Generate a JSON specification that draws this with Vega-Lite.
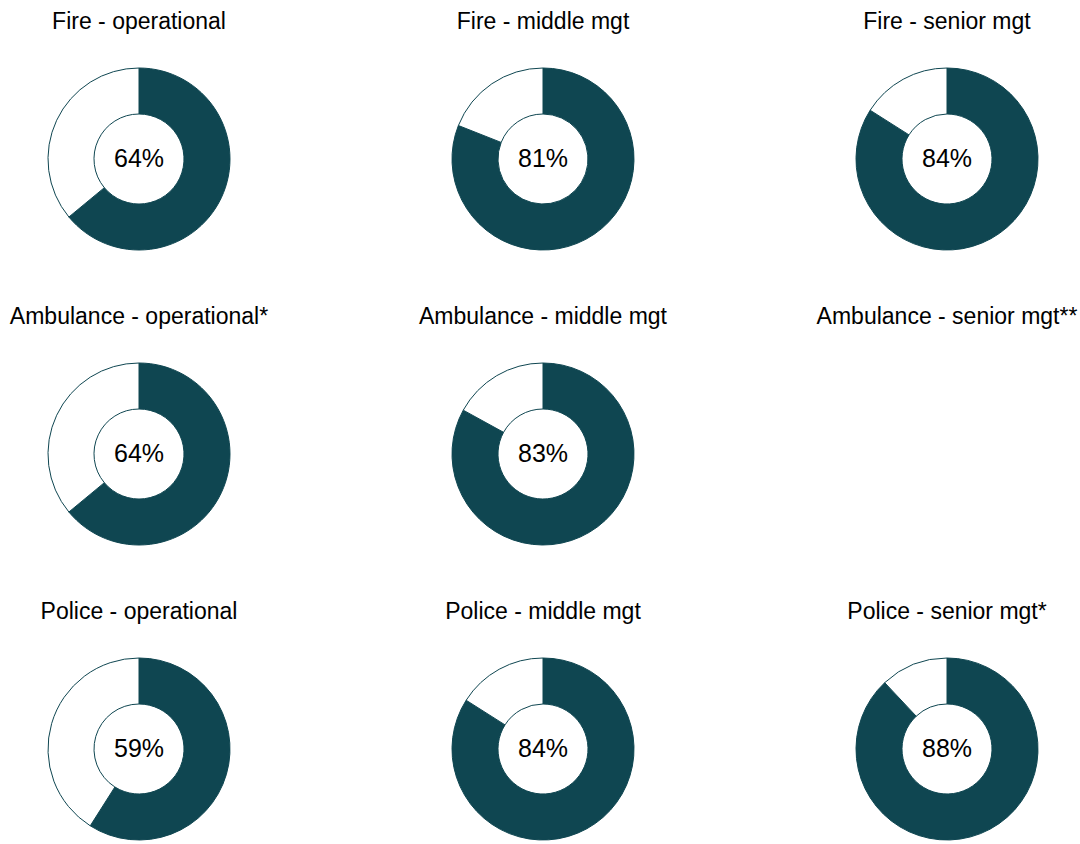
{
  "$schema": "https://vega.github.io/schema/vega-lite/v6.json",
  "padding": {"left": 4, "top": 11, "right": 0, "bottom": 0},
  "background": "white",
  "data": {
    "values": [
      {"panel": "Fire - operational", "part": "share", "ord": 1, "value": 0.64},
      {"panel": "Fire - operational", "part": "rest", "ord": 2, "value": 0.36},
      {"panel": "Fire - middle mgt", "part": "share", "ord": 1, "value": 0.81},
      {"panel": "Fire - middle mgt", "part": "rest", "ord": 2, "value": 0.19},
      {"panel": "Fire - senior mgt", "part": "share", "ord": 1, "value": 0.84},
      {"panel": "Fire - senior mgt", "part": "rest", "ord": 2, "value": 0.16},
      {"panel": "Ambulance - operational*", "part": "share", "ord": 1, "value": 0.64},
      {"panel": "Ambulance - operational*", "part": "rest", "ord": 2, "value": 0.36},
      {"panel": "Ambulance - middle mgt", "part": "share", "ord": 1, "value": 0.83},
      {"panel": "Ambulance - middle mgt", "part": "rest", "ord": 2, "value": 0.17},
      {"panel": "Ambulance - senior mgt**", "part": "share", "ord": 1, "value": null},
      {"panel": "Police - operational", "part": "share", "ord": 1, "value": 0.59},
      {"panel": "Police - operational", "part": "rest", "ord": 2, "value": 0.41},
      {"panel": "Police - middle mgt", "part": "share", "ord": 1, "value": 0.84},
      {"panel": "Police - middle mgt", "part": "rest", "ord": 2, "value": 0.16},
      {"panel": "Police - senior mgt*", "part": "share", "ord": 1, "value": 0.88},
      {"panel": "Police - senior mgt*", "part": "rest", "ord": 2, "value": 0.12}
    ]
  },
  "facet": {
    "field": "panel",
    "type": "nominal",
    "title": null,
    "sort": ["Fire - operational", "Fire - middle mgt", "Fire - senior mgt", "Ambulance - operational*", "Ambulance - middle mgt", "Ambulance - senior mgt**", "Police - operational", "Police - middle mgt", "Police - senior mgt*"],
    "header": {
      "labelFont": "Liberation Sans",
      "labelFontSize": 23,
      "labelColor": "#000000",
      "labelPadding": 25
    }
  },
  "columns": 3,
  "spacing": {"column": 134, "row": 47},
  "spec": {
    "width": 270,
    "height": 200,
    "layer": [
      {
        "mark": {"type": "arc", "outerRadius": 91, "innerRadius": 45, "stroke": "#0f4651", "strokeWidth": 1},
        "encoding": {
          "theta": {"field": "value", "type": "quantitative", "stack": true},
          "order": {"field": "ord", "type": "quantitative"},
          "color": {
            "field": "part",
            "type": "nominal",
            "scale": {"domain": ["share", "rest"], "range": ["#0f4651", "#ffffff"]},
            "legend": null
          }
        }
      },
      {
        "transform": [{"filter": "datum.part === 'share' && isValid(datum.value)"}],
        "mark": {"type": "text", "font": "Liberation Sans", "fontSize": 25, "color": "#000000", "baseline": "middle", "align": "center"},
        "encoding": {
          "text": {"field": "value", "type": "quantitative", "format": ".0%"}
        }
      }
    ]
  },
  "config": {"view": {"stroke": null}}
}
